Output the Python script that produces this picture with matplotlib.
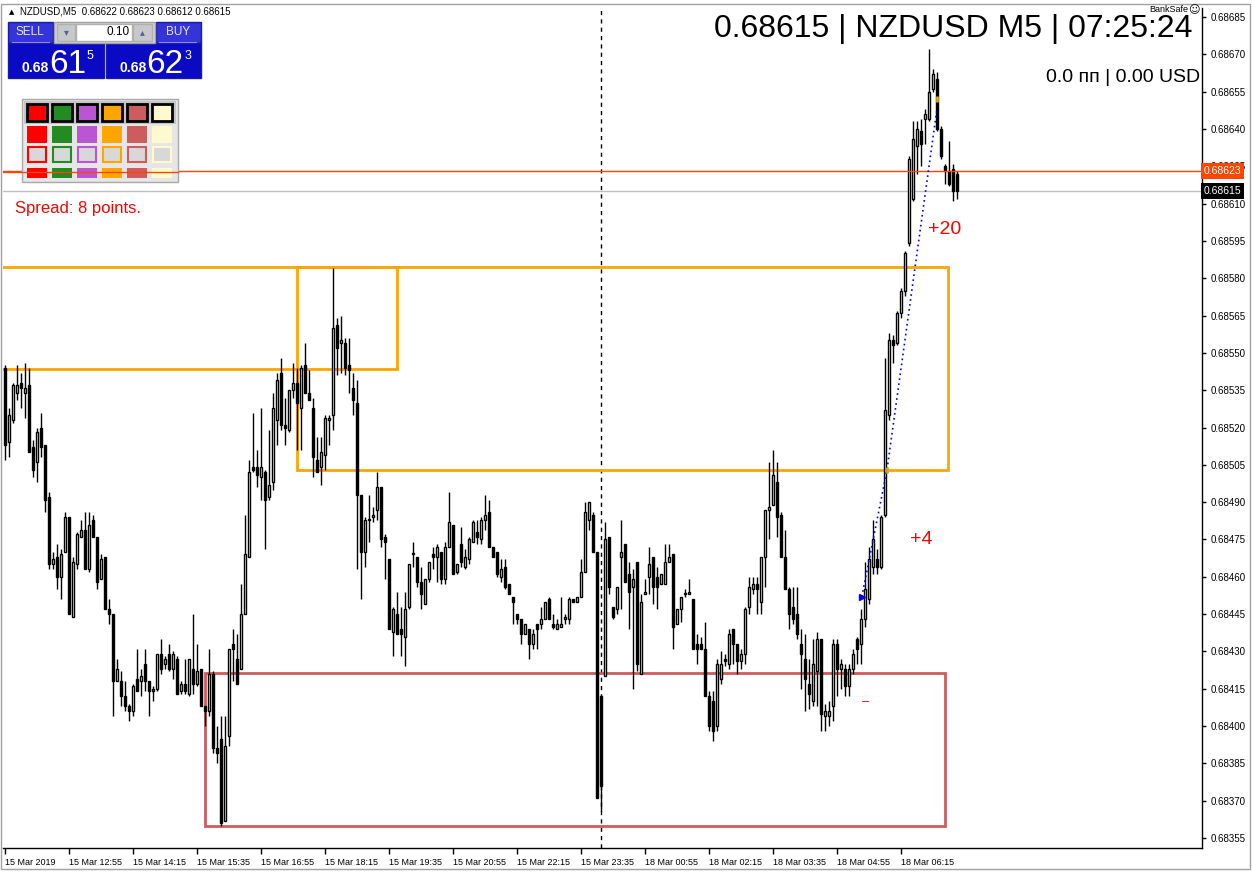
import numpy as np
import matplotlib
matplotlib.use('Agg')
import matplotlib.pyplot as plt
from matplotlib.patches import Rectangle
import matplotlib.transforms as mtransforms

# ─── Velas M5 NZDUSD (precio x 1e5) ───────────────────────────────────────────
OPEN = [
    68544, 68514, 68523, 68534, 68538, 68534, 68537, 68512, 68506, 68520,
    68513, 68492, 68465, 68468, 68460, 68470, 68484, 68444, 68465, 68476,
    68479, 68463, 68483, 68476, 68459, 68468, 68447, 68445, 68418, 68418,
    68412, 68408, 68406, 68419, 68418, 68425, 68418, 68414, 68415, 68429,
    68425, 68429, 68423, 68427, 68414, 68417, 68413, 68423, 68417, 68423,
    68408, 68406, 68421, 68391, 68395, 68362, 68396, 68433, 68427, 68423,
    68445, 68468, 68504, 68504, 68500, 68502, 68492, 68498, 68523, 68542,
    68521, 68519, 68535, 68538, 68528, 68545, 68534, 68528, 68507, 68504,
    68509, 68523, 68525, 68561, 68554, 68554, 68545, 68536, 68530, 68493,
    68470, 68483, 68484, 68487, 68496, 68476, 68467, 68438, 68445, 68439,
    68436, 68448, 68469, 68468, 68458, 68449, 68459, 68469, 68468, 68470,
    68459, 68472, 68481, 68462, 68473, 68464, 68467, 68474, 68478, 68475,
    68483, 68486, 68472, 68470, 68460, 68464, 68457, 68452, 68445, 68443,
    68437, 68439, 68433, 68441, 68441, 68443, 68451, 68441, 68439, 68440,
    68443, 68443, 68451, 68450, 68452, 68462, 68483, 68485, 68470, 68412,
    68420, 68476, 68448, 68447, 68468, 68473, 68461, 68456, 68466, 68421,
    68453, 68460, 68468, 68460, 68457, 68457, 68466, 68469, 68441, 68447,
    68453, 68453, 68451, 68433, 68433, 68431, 68412, 68410, 68400, 68419,
    68427, 68425, 68439, 68433, 68426, 68429, 68448, 68455, 68457, 68450,
    68468, 68487, 68489, 68498, 68485, 68468, 68455, 68448, 68445, 68433,
    68427, 68417, 68410, 68422, 68435, 68404, 68404, 68408, 68433, 68423,
    68423, 68416, 68423, 68435, 68433, 68443, 68451, 68464, 68467, 68464,
    68485, 68525, 68555, 68554, 68566, 68575, 68594, 68612, 68633, 68639,
    68644, 68644, 68656, 68660, 68640, 68625, 68623, 68624, 68622,
]
HIGH = [
    68545, 68528, 68538, 68545, 68542, 68546, 68544, 68515, 68520, 68526,
    68513, 68494, 68470, 68473, 68471, 68486, 68484, 68468, 68478, 68483,
    68486, 68486, 68485, 68476, 68469, 68468, 68451, 68445, 68427, 68422,
    68418, 68409, 68417, 68431, 68423, 68431, 68418, 68416, 68429, 68435,
    68428, 68433, 68430, 68428, 68418, 68427, 68427, 68445, 68433, 68423,
    68408, 68431, 68422, 68400, 68404, 68404, 68431, 68439, 68437, 68457,
    68485, 68507, 68526, 68511, 68528, 68503, 68519, 68534, 68542, 68548,
    68532, 68535, 68546, 68544, 68545, 68554, 68543, 68532, 68516, 68516,
    68525, 68525, 68584, 68564, 68565, 68556, 68556, 68542, 68539, 68493,
    68484, 68493, 68488, 68502, 68496, 68477, 68467, 68448, 68454, 68448,
    68454, 68465, 68474, 68468, 68464, 68459, 68466, 68472, 68473, 68470,
    68474, 68494, 68481, 68465, 68480, 68471, 68476, 68483, 68483, 68484,
    68493, 68491, 68472, 68470, 68467, 68467, 68457, 68452, 68445, 68443,
    68441, 68439, 68439, 68441, 68448, 68450, 68452, 68445, 68443, 68452,
    68445, 68452, 68451, 68452, 68467, 68490, 68490, 68486, 68470, 68412,
    68482, 68476, 68448, 68456, 68483, 68473, 68466, 68463, 68466, 68453,
    68459, 68472, 68468, 68464, 68461, 68473, 68473, 68469, 68447, 68452,
    68455, 68459, 68451, 68437, 68436, 68442, 68414, 68414, 68427, 68430,
    68429, 68439, 68439, 68433, 68431, 68448, 68460, 68460, 68460, 68468,
    68487, 68506, 68511, 68506, 68486, 68479, 68456, 68456, 68456, 68439,
    68437, 68427, 68435, 68438, 68435, 68409, 68410, 68435, 68435, 68427,
    68425, 68425, 68431, 68436, 68447, 68466, 68472, 68483, 68471, 68485,
    68548, 68558, 68557, 68567, 68576, 68591, 68629, 68643, 68643, 68644,
    68648, 68672, 68664, 68663, 68641, 68626, 68635, 68626, 68623,
]
LOW = [
    68507, 68508, 68522, 68531, 68528, 68524, 68510, 68500, 68498, 68508,
    68486, 68463, 68463, 68455, 68451, 68470, 68445, 68444, 68463, 68476,
    68463, 68462, 68476, 68455, 68459, 68447, 68441, 68404, 68418, 68408,
    68406, 68402, 68404, 68414, 68412, 68414, 68404, 68410, 68414, 68421,
    68423, 68422, 68419, 68413, 68413, 68413, 68412, 68413, 68416, 68408,
    68400, 68404, 68389, 68385, 68360, 68362, 68392, 68418, 68417, 68423,
    68445, 68468, 68502, 68496, 68491, 68471, 68491, 68495, 68513, 68519,
    68513, 68518, 68532, 68511, 68511, 68534, 68531, 68500, 68502, 68497,
    68503, 68513, 68519, 68541, 68542, 68541, 68534, 68525, 68463, 68451,
    68464, 68474, 68482, 68483, 68472, 68459, 68439, 68428, 68437, 68428,
    68424, 68447, 68464, 68456, 68447, 68449, 68458, 68463, 68458, 68457,
    68457, 68472, 68461, 68461, 68464, 68463, 68465, 68474, 68473, 68473,
    68479, 68472, 68468, 68460, 68458, 68455, 68453, 68441, 68441, 68433,
    68437, 68427, 68431, 68431, 68439, 68443, 68443, 68439, 68439, 68440,
    68441, 68441, 68450, 68450, 68452, 68462, 68479, 68470, 68371, 68366,
    68420, 68453, 68443, 68445, 68447, 68458, 68439, 68415, 68422, 68421,
    68453, 68453, 68449, 68447, 68457, 68457, 68466, 68431, 68441, 68442,
    68452, 68453, 68431, 68425, 68431, 68412, 68398, 68394, 68398, 68417,
    68424, 68423, 68425, 68421, 68423, 68425, 68445, 68453, 68445, 68445,
    68456, 68475, 68489, 68476, 68468, 68455, 68439, 68441, 68435, 68415,
    68406, 68407, 68408, 68408, 68398, 68398, 68400, 68402, 68412, 68415,
    68412, 68412, 68421, 68425, 68425, 68440, 68449, 68461, 68461, 68463,
    68484, 68523, 68546, 68553, 68564, 68573, 68593, 68611, 68622, 68625,
    68634, 68643, 68655, 68639, 68628, 68618, 68617, 68611, 68612,
]
CLOSE = [
    68513, 68525, 68537, 68537, 68536, 68536, 68510, 68503, 68518, 68512,
    68491, 68465, 68467, 68460, 68469, 68484, 68445, 68466, 68477, 68479,
    68463, 68481, 68476, 68458, 68467, 68447, 68445, 68418, 68423, 68412,
    68408, 68406, 68416, 68414, 68420, 68418, 68414, 68415, 68429, 68423,
    68427, 68423, 68429, 68413, 68417, 68414, 68427, 68417, 68422, 68408,
    68406, 68421, 68391, 68389, 68361, 68392, 68431, 68431, 68417, 68445,
    68469, 68502, 68503, 68501, 68504, 68491, 68497, 68528, 68539, 68521,
    68520, 68535, 68538, 68530, 68544, 68534, 68531, 68508, 68502, 68510,
    68524, 68524, 68560, 68552, 68555, 68544, 68543, 68531, 68493, 68470,
    68483, 68483, 68485, 68496, 68475, 68474, 68439, 68447, 68437, 68437,
    68447, 68465, 68469, 68458, 68453, 68459, 68466, 68468, 68472, 68459,
    68472, 68482, 68461, 68465, 68466, 68468, 68475, 68482, 68476, 68483,
    68485, 68472, 68468, 68461, 68463, 68456, 68453, 68450, 68443, 68437,
    68441, 68433, 68437, 68439, 68443, 68450, 68443, 68440, 68441, 68441,
    68444, 68451, 68450, 68452, 68462, 68486, 68490, 68470, 68371, 68376,
    68475, 68456, 68444, 68456, 68470, 68458, 68454, 68459, 68425, 68450,
    68454, 68465, 68456, 68456, 68461, 68466, 68468, 68440, 68447, 68452,
    68453, 68454, 68431, 68431, 68431, 68412, 68400, 68398, 68425, 68425,
    68426, 68437, 68433, 68426, 68429, 68447, 68456, 68457, 68455, 68468,
    68487, 68488, 68501, 68484, 68468, 68455, 68445, 68443, 68437, 68429,
    68419, 68413, 68425, 68435, 68405, 68406, 68406, 68433, 68423, 68425,
    68416, 68423, 68429, 68431, 68443, 68455, 68467, 68475, 68464, 68484,
    68527, 68555, 68553, 68566, 68575, 68590, 68628, 68636, 68640, 68634,
    68646, 68655, 68662, 68640, 68629, 68623, 68618, 68615, 68615,
]

# ─── Ejes ─────────────────────────────────────────────────────────────────────
Y_TICKS = [0.68355, 0.68370, 0.68385, 0.68400, 0.68415, 0.68430, 0.68445,
           0.68460, 0.68475, 0.68490, 0.68505, 0.68520, 0.68535, 0.68550,
           0.68565, 0.68580, 0.68595, 0.68610, 0.68625, 0.68640, 0.68655,
           0.68670, 0.68685]
X_TICK_BARS = [0, 16, 32, 48, 64, 80, 96, 112, 128, 144, 160, 176, 192, 208, 224]
X_TICK_LABELS = ["15 Mar 2019", "15 Mar 12:55", "15 Mar 14:15", "15 Mar 15:35",
                 "15 Mar 16:55", "15 Mar 18:15", "15 Mar 19:35", "15 Mar 20:55",
                 "15 Mar 22:15", "15 Mar 23:35", "18 Mar 00:55", "18 Mar 02:15",
                 "18 Mar 03:35", "18 Mar 04:55", "18 Mar 06:15"]

ASK = 0.68623
SEPARADOR = 149            # 18 Mar 00:00

# ─── Zonas (barra inicial, barra final, precio bajo, precio alto) ────────────
ZONAS_NARANJA = [(-10, 98, 0.685435, 0.685845),
                 (73, 235.75, 0.68503, 0.685845)]
ZONA_ROJA = (50, 235, 0.68360, 0.684213)

# ─── Operaciones (barra, precio) ─────────────────────────────────────────────
TRADE_X = [214.2, 220.5, 232.9]
TRADE_Y = [0.68452, 0.68503, 0.68647]

W, H = 1252, 872
plt.rcParams['font.family'] = ['Liberation Sans', 'DejaVu Sans']

fig = plt.figure(figsize=(W / 100, H / 100), dpi=100)
fig.patch.set_facecolor('white')
ax = fig.add_axes([3 / W, 1 - 848 / H, (1202 - 3) / W, (848 - 8) / H])

o = np.array(OPEN) / 1e5
h = np.array(HIGH) / 1e5
l = np.array(LOW) / 1e5
c = np.array(CLOSE) / 1e5
x = np.arange(len(o))
up = c >= o
base = np.minimum(o, c)
alto = np.maximum(np.abs(c - o), 0.000004)

ax.vlines(x, l, h, color='black', lw=1, zorder=3)
ax.bar(x[up], alto[up], bottom=base[up], width=0.55, facecolor='white',
       edgecolor='black', linewidth=1, zorder=4)
ax.bar(x[~up], alto[~up], bottom=base[~up], width=0.55, facecolor='black',
       edgecolor='black', linewidth=1, zorder=4)

for x0, x1, p0, p1 in ZONAS_NARANJA:
    ax.add_patch(Rectangle((x0, p0), x1 - x0, p1 - p0, fill=False,
                           edgecolor='#ffa500', lw=2, zorder=2))
x0, x1, p0, p1 = ZONA_ROJA
ax.add_patch(Rectangle((x0, p0), x1 - x0, p1 - p0, fill=False,
                       edgecolor='#cd5c5c', lw=2, zorder=2))

ax.axvline(SEPARADOR, color='black', lw=1, ls=(0, (3, 3)), zorder=1)
ax.axhline(ASK, color='#ff4500', lw=1, zorder=5)
ax.axhline(c[-1], color='#c0c0c0', lw=1, zorder=1)

ax.plot(TRADE_X, TRADE_Y, color='blue', lw=1.2, ls=(0, (1, 2)), zorder=6)
ax.plot(TRADE_X[0], TRADE_Y[0], marker='>', color='blue', ms=4, zorder=7)
ax.plot(TRADE_X[1:], [TRADE_Y[1], 0.68652], marker='|', ls='none',
        color='#daa520', ms=5, mew=2, zorder=7)
ax.text(230.75, 0.685994, '+20', color='red', fontsize=14, va='center', zorder=8)
ax.text(226.25, 0.684748, '+4', color='red', fontsize=14, va='center', zorder=8)
ax.text(215, 0.684097, '–', color='red', fontsize=9, va='center', ha='center', zorder=8)

ax.set_xlim(-0.5, 299.25)
ax.set_ylim(0.683510, 0.686886)
ax.set_facecolor('white')
for s in ['left', 'top']:
    ax.spines[s].set_visible(False)
for s in ['right', 'bottom']:
    ax.spines[s].set_color('black')
    ax.spines[s].set_linewidth(1)

ax.yaxis.tick_right()
ax.set_yticks(Y_TICKS)
ax.set_yticklabels([f"{v:.5f}" for v in Y_TICKS])
ax.tick_params(axis='y', length=3, pad=3, labelsize=7, width=1)
ax.set_xticks(X_TICK_BARS)
ax.set_xticklabels(X_TICK_LABELS)
ax.tick_params(axis='x', length=4, pad=3, labelsize=6.5, width=1)
for lab in ax.get_xticklabels():
    lab.set_ha('left')

# Etiquetas de precio en la escala
tr = mtransforms.blended_transform_factory(ax.transAxes, ax.transData)
ax.text(1.0015, ASK, f"{ASK:.5f}", transform=tr, color='white', fontsize=7.5,
        va='center', ha='left', zorder=10, clip_on=False,
        bbox=dict(facecolor='#ff4500', edgecolor='none', pad=2.2))
ax.text(1.0015, c[-1], f"{c[-1]:.5f}", transform=tr, color='white', fontsize=7.5,
        va='center', ha='left', zorder=10, clip_on=False,
        bbox=dict(facecolor='black', edgecolor='none', pad=2.2))


# ─── Elementos en píxeles de la ventana ──────────────────────────────────────
def caja(x0, y0, x1, y1, **kw):
    fig.add_artist(Rectangle((x0 / W, 1 - y1 / H), (x1 - x0) / W, (y1 - y0) / H,
                             transform=fig.transFigure, **kw))


def texto(xp, yp, s, **kw):
    fig.text(xp / W, 1 - yp / H, s, **kw)


caja(1, 4, 1250, 869, fill=False, edgecolor='#a0a0a0', lw=1)

texto(9, 12, '▲', fontsize=5, va='center', family=['DejaVu Sans'])
texto(20, 12, f"NZDUSD,M5  {o[-1]:.5f} {h[-1]:.5f} {l[-1]:.5f} {c[-1]:.5f}",
      fontsize=7, va='center')
texto(1193, 29, f"{c[-1]:.5f} | NZDUSD M5 | 07:25:24", fontsize=23,
      va='center', ha='right')
texto(1200, 77, "0.0 пп | 0.00 USD", fontsize=14, va='center', ha='right')
texto(1188, 10, "BankSafe", fontsize=6.5, va='center', ha='right')
texto(1194, 10, "☺", fontsize=8, va='center', ha='center', family=['DejaVu Sans'])

# Panel de un clic
caja(8, 22, 53, 43, facecolor='#3434d8', edgecolor='#1a1aa8', lw=1)
caja(156, 22, 201, 43, facecolor='#3434d8', edgecolor='#1a1aa8', lw=1)
caja(8, 43, 104, 78, facecolor='#0a0ac4', edgecolor='#1a1aa8', lw=1)
caja(106, 43, 201, 78, facecolor='#0a0ac4', edgecolor='#1a1aa8', lw=1)
caja(54, 22, 155, 43, facecolor='#d4d4d4', edgecolor='#a0a0a0', lw=1)
caja(57, 24, 75, 41, facecolor='#c8c8c8', edgecolor='#b0b0b0', lw=1)
caja(76, 24, 132, 41, facecolor='white', edgecolor='#b0b0b0', lw=1)
caja(133, 24, 152, 41, facecolor='#c8c8c8', edgecolor='#b0b0b0', lw=1)
caja(12, 42, 50, 43, facecolor='#8c8cf0', edgecolor='none')
caja(159, 42, 197, 43, facecolor='#8c8cf0', edgecolor='none')
texto(66, 32, '▾', fontsize=7, va='center', ha='center', color='#5060a0',
      family=['DejaVu Sans'])
texto(142, 32, '▴', fontsize=7, va='center', ha='center', color='#5060a0',
      family=['DejaVu Sans'])
texto(130, 32, '0.10', fontsize=8.5, va='center', ha='right')
texto(30, 32, 'SELL', fontsize=8.5, va='center', ha='center', color='#e8e8ff')
texto(178, 32, 'BUY', fontsize=8.5, va='center', ha='center', color='#e8e8ff')
texto(22, 72, '0.68', fontsize=10, weight='bold', color='white', va='baseline')
texto(49, 73, '61', fontsize=24, color='white', va='baseline')
texto(87, 59, '5', fontsize=9, color='white', va='baseline')
texto(119, 72, '0.68', fontsize=10, weight='bold', color='white', va='baseline')
texto(146, 73, '62', fontsize=24, color='white', va='baseline')
texto(185, 59, '3', fontsize=9, color='white', va='baseline')

# Paleta de colores
PALETA = ['#ff0000', '#228b22', '#ba55d3', '#ffa500', '#cd5c5c', '#fffacd']
caja(22, 99, 178, 182, facecolor='#e6e6e6', edgecolor='#a8a8a8', lw=1)
caja(24, 101, 176, 124, facecolor='#c4c4c4', edgecolor='none')
fig.add_artist(plt.Line2D([3 / W, 178 / W], [1 - 172 / H, 1 - 172 / H],
                          transform=fig.transFigure, color='#ff4500', lw=1))
for k, col in enumerate(PALETA):
    xa = 27 + 25 * k
    caja(xa, 104, xa + 20, 121, facecolor=col, edgecolor='black', lw=2)
    caja(xa, 126, xa + 20, 143, facecolor=col, edgecolor='none')
    caja(xa + 1, 147, xa + 19, 162, facecolor='#d8d8d8', edgecolor=col, lw=1.5)
    caja(xa, 168, xa + 20, 178, facecolor=col, edgecolor='none')

texto(15, 208, 'Spread: 8 points.', fontsize=12, color='red', va='center')

fig.savefig('out.png', dpi=100, facecolor='white')
